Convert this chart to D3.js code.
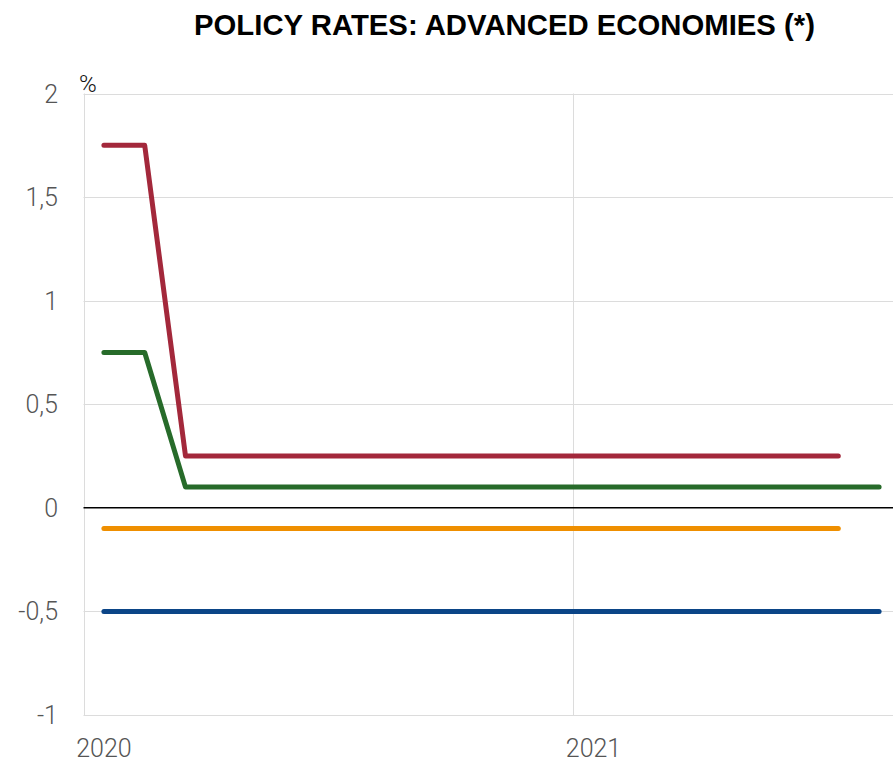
<!DOCTYPE html>
<html>
<head>
<meta charset="utf-8">
<script src="https://cdn.jsdelivr.net/npm/d3@7"></script>
<style>
  body { margin: 0; background: #fff; }
  svg { display: block; }
  .tick-label { font-family: Roboto, "Liberation Sans", sans-serif; font-weight: 300; fill: #555; font-size: 25px; }
</style>
</head>
<body>
<script>
// monthly observations, Jan 2020 - Aug 2021
var months = ["2020-01", "2020-02", "2020-03", "2020-04", "2020-05", "2020-06", "2020-07", "2020-08", "2020-09", "2020-10", "2020-11", "2020-12",
              "2021-01", "2021-02", "2021-03", "2021-04", "2021-05", "2021-06", "2021-07", "2021-08"];

var redRates    = [1.75, 1.75, 0.25, 0.25, 0.25, 0.25, 0.25, 0.25, 0.25, 0.25, 0.25, 0.25, 0.25, 0.25, 0.25, 0.25, 0.25, 0.25, 0.25];
var greenRates  = [0.75, 0.75, 0.1, 0.1, 0.1, 0.1, 0.1, 0.1, 0.1, 0.1, 0.1, 0.1, 0.1, 0.1, 0.1, 0.1, 0.1, 0.1, 0.1, 0.1];
var orangeRates = [-0.1, -0.1, -0.1, -0.1, -0.1, -0.1, -0.1, -0.1, -0.1, -0.1, -0.1, -0.1, -0.1, -0.1, -0.1, -0.1, -0.1, -0.1, -0.1];
var blueRates   = [-0.5, -0.5, -0.5, -0.5, -0.5, -0.5, -0.5, -0.5, -0.5, -0.5, -0.5, -0.5, -0.5, -0.5, -0.5, -0.5, -0.5, -0.5, -0.5, -0.5];

var yTicks = [-1, -0.5, 0, 0.5, 1, 1.5, 2];
var yearLabels = { "2020-01": "2020", "2021-01": "2021" };

var series = [
  { values: blueRates,   color: "#0b4587" },
  { values: orangeRates, color: "#ef8f00" },
  { values: greenRates,  color: "#276b2a" },
  { values: redRates,    color: "#a3283b" }
];

var width = 893, height = 763;

var svg = d3.select("body").append("svg")
    .attr("width", width)
    .attr("height", height);

var x = d3.scaleBand()
    .domain(months)
    .range([83.5, 899.5])
    .paddingInner(0)
    .paddingOuter(0);

var y = d3.scaleLinear()
    .domain([-1, 2])
    .range([715, 93.5]);

var locale = d3.formatLocale({ decimal: ",", thousands: ".", grouping: [3], currency: ["", "€"], minus: "-" });
var fmt = locale.format("~g");

// title
svg.append("text")
    .attr("x", 504.5)
    .attr("y", 35)
    .attr("text-anchor", "middle")
    .attr("textLength", 621)
    .attr("lengthAdjust", "spacingAndGlyphs")
    .style("font-family", "'Liberation Sans', Arial, sans-serif")
    .style("font-weight", "bold")
    .style("font-size", "30px")
    .style("fill", "#000")
    .text("POLICY RATES: ADVANCED ECONOMIES (*)");

// horizontal grid
svg.append("g")
  .selectAll("line")
  .data(yTicks.filter(function(d) { return d !== 0; }))
  .enter().append("line")
    .attr("x1", 83.5)
    .attr("x2", width)
    .attr("y1", function(d) { return Math.round(y(d)) + 0.5; })
    .attr("y2", function(d) { return Math.round(y(d)) + 0.5; })
    .style("stroke", "#dcdcdc")
    .style("stroke-width", 1);

// vertical grid at year starts
svg.append("g")
  .selectAll("line")
  .data(months.filter(function(m) { return yearLabels[m]; }))
  .enter().append("line")
    .attr("x1", function(d) { return Math.round(x(d)) + 0.5; })
    .attr("x2", function(d) { return Math.round(x(d)) + 0.5; })
    .attr("y1", y(2))
    .attr("y2", y(-1))
    .style("stroke", "#dcdcdc")
    .style("stroke-width", 1);

// zero line
svg.append("line")
    .attr("x1", 83.5)
    .attr("x2", width)
    .attr("y1", y(0))
    .attr("y2", y(0))
    .style("stroke", "#000")
    .style("stroke-width", 1.5);

// y tick labels
svg.append("g")
  .selectAll("text")
  .data(yTicks)
  .enter().append("text")
    .attr("class", "tick-label")
    .attr("x", 58)
    .attr("y", function(d) { return y(d); })
    .attr("dy", "0.36em")
    .attr("text-anchor", "end")
    .text(function(d) { return fmt(d); });

// x labels at mid-January
svg.append("g")
  .selectAll("text")
  .data(months.filter(function(m) { return yearLabels[m]; }))
  .enter().append("text")
    .attr("class", "tick-label")
    .attr("x", function(d) { return x(d) + x.bandwidth() / 2; })
    .attr("y", 757)
    .attr("text-anchor", "middle")
    .text(function(d) { return yearLabels[d]; });

// unit
svg.append("text")
    .attr("x", 79)
    .attr("y", 92)
    .style("font-family", "Roboto, 'Liberation Sans', sans-serif")
    .style("font-weight", 300)
    .style("font-size", "24px")
    .style("fill", "#111")
    .text("%");

// lines
var line = d3.line()
    .x(function(d, i) { return x(months[i]) + x.bandwidth() / 2; })
    .y(function(d) { return y(d); });

svg.append("g")
  .selectAll("path")
  .data(series)
  .enter().append("path")
    .attr("d", function(s) { return line(s.values); })
    .style("fill", "none")
    .style("stroke", function(s) { return s.color; })
    .style("stroke-width", 5)
    .style("stroke-linecap", "round")
    .style("stroke-linejoin", "round");
</script>
</body>
</html>
